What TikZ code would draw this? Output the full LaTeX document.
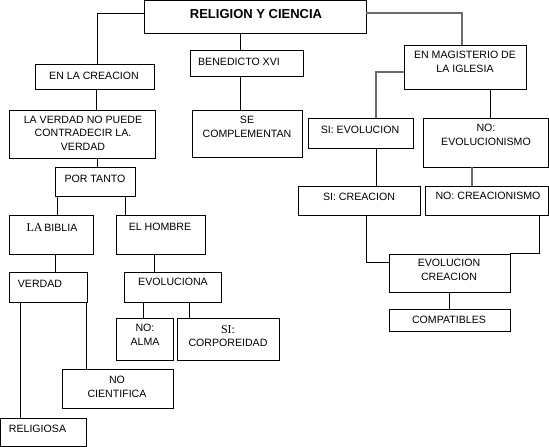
\documentclass[tikz,border=0pt]{standalone}
\usepackage{fontspec}
\setmainfont{Liberation Sans}
\newfontfamily\serifx{Liberation Serif}
\usetikzlibrary{fit}
\begin{document}
\begin{tikzpicture}[x=1pt,y=-1pt,
  box/.style={draw=black,line width=0.9pt,inner sep=0pt,rectangle},
  txt/.style={inner sep=0pt,align=center,font=\fontsize{10.6}{13.5}\selectfont,text=black},
  conn/.style={draw=black,line width=0.9pt},
  gconn/.style={draw=black!58,line width=1.2pt}]
\useasboundingbox (0,0) rectangle (549,447);
% boxes
\node[box,fit={(144,0.5) (366,33)}] (main) {};
\node[box,fit={(35,64) (154,89)}] (creac) {};
\node[box,fit={(9,110) (155,158)}] (verdadNo) {};
\node[box,fit={(55,167) (135,196)}] (portanto) {};
\node[box,fit={(9,215) (93,254)}] (biblia) {};
\node[box,fit={(116,215) (205,254)}] (hombre) {};
\node[box,fit={(9,272) (87,302)}] (verdad) {};
\node[box,fit={(124,272) (221,302)}] (evol) {};
\node[box,fit={(116,318) (173,360)}] (alma) {};
\node[box,fit={(177,318) (279,360)}] (corp) {};
\node[box,fit={(62,369) (173,408)}] (nocient) {};
\node[box,fit={(0.5,418) (86,446.5)}] (relig) {};
\node[box,fit={(190,50) (303,76)}] (bened) {};
\node[box,fit={(192,110) (302,157)}] (secomp) {};
\node[box,fit={(404,45) (526,89)}] (magist) {};
\node[box,fit={(308,118) (413,148)}] (sievol) {};
\node[box,fit={(423,118) (548,167)}] (noevol) {};
\node[box,fit={(298,186) (420,215)}] (sicrea) {};
\node[box,fit={(425,186) (548,215)}] (nocrea) {};
\node[box,fit={(389,254) (510,292)}] (evcrea) {};
\node[box,fit={(389,309) (510,331)}] (compat) {};
% texts
\node[txt,font=\fontsize{13}{15}\selectfont\bfseries] (t-main) at (256,14) {RELIGION Y CIENCIA};
\node[txt] (t-creac) at (94,76) {EN LA CREACION};
\node[txt] (t-verdadNo) at (83,133) {LA VERDAD NO PUEDE\\CONTRADECIR LA.\\VERDAD};
\node[txt] (t-portanto) at (95,179) {POR TANTO};
\node[txt] (t-biblia) at (52,228) {{\serifx\fontsize{12}{13}\selectfont LA}\,BIBLIA};
\node[txt] (t-hombre) at (160,227) {EL HOMBRE};
\node[txt] (t-verdad) at (40,284) {VERDAD};
\node[txt] (t-evol) at (173,282) {EVOLUCIONA};
\node[txt] (t-alma) at (145,335) {NO:\\ALMA};
\node[txt] (t-corp) at (228,336) {{\serifx\fontsize{12}{13}\selectfont SI:}\\CORPOREIDAD};
\node[txt] (t-nocient) at (117,387) {NO\\CIENTIFICA};
\node[txt] (t-relig) at (37.5,429) {RELIGIOSA};
\node[txt] (t-bened) at (239,62) {BENEDICTO XVI};
\node[txt] (t-secomp) at (247,127) {SE\\COMPLEMENTAN};
\node[txt] (t-magist) at (465,62) {EN MAGISTERIO DE\\LA IGLESIA};
\node[txt] (t-sievol) at (360,130) {SI: EVOLUCION};
\node[txt] (t-noevol) at (486,135) {NO:\\EVOLUCIONISMO};
\node[txt] (t-sicrea) at (359,197) {SI: CREACION};
\node[txt] (t-nocrea) at (488,196) {NO: CREACIONISMO};
\node[txt] (t-evcrea) at (449,270) {EVOLUCION\\CREACION};
\node[txt] (t-compat) at (449,320) {COMPATIBLES};
% connectors
\draw[conn] (main.west |- 0,13) -| (creac.north -| 97,0);
\draw[conn] (creac.south -| 96,0) -- (verdadNo.north -| 96,0);
\draw[conn] (verdadNo.south -| 97,0) -- (portanto.north -| 97,0);
\draw[conn] (portanto.south -| 57,0) -- (biblia.north -| 57,0);
\draw[conn] (portanto.south -| 125,0) -- (hombre.north -| 125,0);
\draw[conn] (biblia.south -| 55,0) -- (verdad.north -| 55,0);
\draw[conn] (hombre.south -| 154,0) -- (evol.north -| 154,0);
\draw[conn] (verdad.south -| 20,0) -- (relig.north -| 20,0);
\draw[conn] (verdad.south -| 86,0) -- (nocient.north -| 86,0);
\draw[conn] (evol.south -| 143,0) -- (alma.north -| 143,0);
\draw[conn] (evol.south -| 189,0) -- (corp.north -| 189,0);
\draw[conn] (main.south -| 240,0) -- (bened.north -| 240,0);
\draw[conn] (bened.south -| 240,0) -- (secomp.north -| 240,0);
\draw[gconn] (main.east |- 0,13) -| (magist.north -| 462,0);
\draw[gconn] (magist.west |- 0,72) -| (sievol.north -| 376,0);
\draw[conn] (magist.south -| 490,0) -- (noevol.north -| 490,0);
\draw[conn] (sievol.south -| 376,0) -- (sicrea.north -| 376,0);
\draw[gconn] (noevol.south -| 472,0) -- (nocrea.north -| 472,0);
\draw[conn] (sicrea.south -| 366,0) |- (evcrea.west |- 0,262);
\draw[conn] (nocrea.south -| 539,0) |- (evcrea.north east);
\draw[conn] (evcrea.south -| 449,0) -- (compat.north -| 449,0);
\end{tikzpicture}
\end{document}
